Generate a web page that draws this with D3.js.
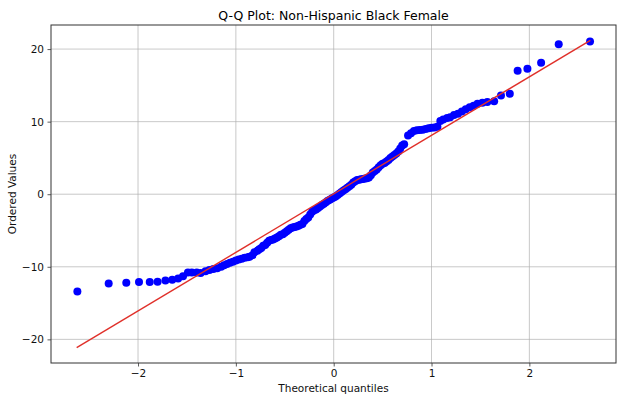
<!DOCTYPE html>
<html>
<head>
<meta charset="utf-8">
<script src="https://cdn.jsdelivr.net/npm/d3@7"></script>
<style>
  html, body { margin: 0; padding: 0; background: #fff; }
  svg { display: block; font-family: "DejaVu Sans", sans-serif; }
</style>
</head>
<body>
<svg id="svg" width="628" height="398"></svg>
<script>
// theoretical quantiles (x) and ordered values (y)
const theoretical = [
  -2.62, -2.30, -2.12, -1.99, -1.88, -1.80, -1.72, -1.65, -1.59, -1.54,
  -1.49, -1.45, -1.40, -1.36, -1.31, -1.27, -1.23, -1.19, -1.15, -1.12,
  -1.09, -1.06, -1.03, -1.00, -0.97, -0.94, -0.91, -0.88, -0.86, -0.83,
  -0.81, -0.78, -0.76, -0.74, -0.72, -0.70, -0.68, -0.66, -0.64, -0.62,
  -0.60, -0.58, -0.56, -0.54, -0.52, -0.50, -0.48, -0.46, -0.44, -0.42,
  -0.40, -0.38, -0.36, -0.34, -0.32, -0.30, -0.28, -0.26, -0.24, -0.22,
  -0.20, -0.18, -0.16, -0.14, -0.12, -0.10, -0.08, -0.06, -0.04, -0.02,
   0.00,  0.02,  0.04,  0.06,  0.08,  0.10,  0.12,  0.14,  0.16,  0.18,
   0.20,  0.22,  0.24,  0.26,  0.28,  0.30,  0.32,  0.34,  0.36,  0.38,
   0.40,  0.42,  0.44,  0.46,  0.48,  0.50,  0.52,  0.54,  0.56,  0.58,
   0.60,  0.62,  0.64,  0.66,  0.68,  0.70,  0.72,  0.76,  0.79,  0.82,
   0.85,  0.88,  0.91,  0.94,  0.97,  1.00,  1.03,  1.06,  1.09,  1.12,
   1.16,  1.19,  1.23,  1.27,  1.31,  1.35,  1.39,  1.43,  1.47,  1.52,
   1.57,  1.64,  1.71,  1.80,  1.88,  1.98,  2.12,  2.30,  2.62
];
const ordered = [
  -13.4, -12.3, -12.2, -12.1, -12.1, -12.05, -11.9, -11.8, -11.6, -11.3,
  -10.8, -10.8, -10.8, -10.85, -10.6, -10.45, -10.3, -10.2, -10.0, -9.8,
  -9.6, -9.45, -9.3, -9.15, -9.0, -8.9, -8.75, -8.7, -8.6, -8.4,
  -8.0, -7.8, -7.6, -7.4, -7.1, -7.0, -6.7, -6.4, -6.3, -6.25,
  -6.1, -5.95, -5.8, -5.6, -5.5, -5.3, -5.1, -4.9, -4.7, -4.6,
  -4.5, -4.45, -4.35, -4.2, -4.1, -3.7, -3.4, -3.2, -2.8, -2.4,
  -2.2, -2.1, -1.9, -1.7, -1.5, -1.3, -1.1, -0.9, -0.75, -0.6,
  -0.45, -0.3, -0.1, 0.1, 0.3, 0.5, 0.7, 0.9, 1.1, 1.3,
  1.6, 1.8, 1.95, 2.0, 2.05, 2.1, 2.15, 2.2, 2.3, 2.6,
  3.0, 3.2, 3.4, 3.7, 4.0, 4.2, 4.3, 4.5, 4.7, 5.0,
  5.2, 5.4, 5.6, 5.9, 6.3, 6.7, 6.9, 8.1, 8.4, 8.7,
  8.8, 8.85, 8.9, 9.0, 9.1, 9.15, 9.2, 9.3, 10.1, 10.3,
  10.5, 10.6, 10.9, 11.1, 11.4, 11.7, 12.0, 12.2, 12.45, 12.6,
  12.7, 12.8, 13.6, 13.85, 17.0, 17.3, 18.1, 20.65, 21.05
];
// least-squares fit line end points
const fitX = [-2.627, 2.623];
const fitY = [-21.14, 21.2];

const xTicks = [-2, -1, 0, 1, 2];
const yTicks = [-20, -10, 0, 10, 20];

const title = "Q-Q Plot: Non-Hispanic Black Female";
const xLabel = "Theoretical quantiles";
const yLabel = "Ordered Values";

const margin = { left: 51, top: 25, right: 12, bottom: 35 };
const W = 628, H = 398;
const w = W - margin.left - margin.right;
const h = H - margin.top - margin.bottom;

const svg = d3.select('#svg');
const g = svg.append('g').attr('transform', `translate(${margin.left},${margin.top})`);

// matplotlib style 5% padding on data extent
function padded(ext) {
  const p = (ext[1] - ext[0]) * 0.05;
  return [ext[0] - p, ext[1] + p];
}
const xExt = d3.extent(theoretical.concat(fitX));
const yExt = d3.extent(ordered.concat(fitY));

const x = d3.scaleLinear().domain(padded(xExt)).range([0, w]);
const y = d3.scaleLinear().domain(padded(yExt)).range([h, 0]);

// grid
g.append('g')
  .selectAll('line.gx')
  .data(xTicks)
  .enter().append('line')
  .attr('x1', d => x(d)).attr('x2', d => x(d))
  .attr('y1', 0).attr('y2', h)
  .attr('stroke', '#b0b0b0').attr('stroke-width', 0.8).attr('opacity', 0.85);
g.append('g')
  .selectAll('line.gy')
  .data(yTicks)
  .enter().append('line')
  .attr('x1', 0).attr('x2', w)
  .attr('y1', d => y(d)).attr('y2', d => y(d))
  .attr('stroke', '#b0b0b0').attr('stroke-width', 0.8).attr('opacity', 0.85);

// points
const pts = theoretical.map((t, i) => ({ t: t, v: ordered[i] }));
g.append('g')
  .selectAll('circle')
  .data(pts)
  .enter().append('circle')
  .attr('cx', d => x(d.t))
  .attr('cy', d => y(d.v))
  .attr('r', 4)
  .attr('fill', '#0000ff');

// fit line
g.append('path')
  .datum(fitX.map((t, i) => [t, fitY[i]]))
  .attr('fill', 'none')
  .attr('stroke', '#e0302a')
  .attr('stroke-width', 1.4)
  .attr('d', d3.line().x(d => x(d[0])).y(d => y(d[1])));

// axes
const fmt = d3.format('d');
const xAxis = g.append('g')
  .attr('transform', `translate(0,${h})`)
  .call(d3.axisBottom(x).tickValues(xTicks).tickFormat(fmt).tickSize(3.5).tickPadding(3.5));
const yAxis = g.append('g')
  .call(d3.axisLeft(y).tickValues(yTicks).tickFormat(fmt).tickSize(3.5).tickPadding(3.5));
[xAxis, yAxis].forEach(a => {
  a.select('.domain').remove();
  a.selectAll('line').attr('stroke', '#333').attr('stroke-width', 0.8);
  a.selectAll('text').attr('fill', '#111').style('font-size', '10.5px')
    .style('font-family', '"DejaVu Sans", sans-serif');
});

// frame
g.append('rect')
  .attr('x', 0).attr('y', 0).attr('width', w).attr('height', h)
  .attr('fill', 'none').attr('stroke', '#333').attr('stroke-width', 1);

// labels
svg.append('text')
  .attr('x', margin.left + w / 2).attr('y', 19.5)
  .attr('text-anchor', 'middle')
  .style('font-size', '12.5px').attr('fill', '#000')
  .text(title);
svg.append('text')
  .attr('x', margin.left + w / 2).attr('y', 392)
  .attr('text-anchor', 'middle')
  .style('font-size', '10.5px').attr('fill', '#111')
  .text(xLabel);
svg.append('text')
  .attr('transform', `translate(16,${margin.top + h / 2}) rotate(-90)`)
  .attr('text-anchor', 'middle')
  .style('font-size', '10.5px').attr('fill', '#111')
  .text(yLabel);
</script>
</body>
</html>
